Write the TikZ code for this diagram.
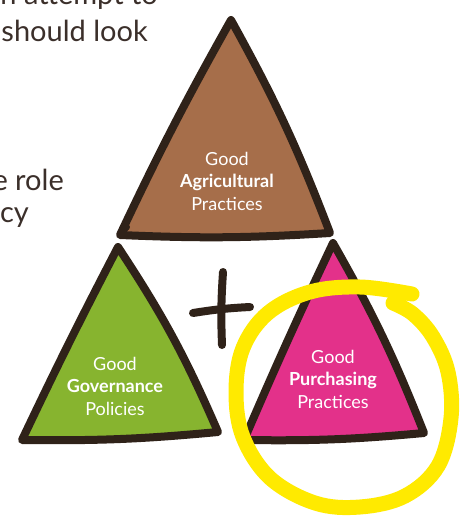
\documentclass[tikz,border=0pt]{standalone}
\usepackage{fontspec}
\setmainfont{Lato}
\definecolor{ink}{HTML}{2F2219}
\definecolor{txt}{HTML}{3B2F2A}
\definecolor{brownfill}{HTML}{A66E4A}
\definecolor{greenfill}{HTML}{87B42F}
\definecolor{pinkfill}{HTML}{E3318A}
\definecolor{hilite}{HTML}{FFEA00}
\tikzset{
  tri/.style={draw=ink, line width=8pt, line join=round, line cap=round},
  lbl/.style={text=white, align=center, font=\fontsize{18}{22.5}\selectfont},
  body/.style={text=txt, font=\fontsize{29}{32}\selectfont, inner sep=0pt},
  stroke/.style={draw=ink, line width=8pt, line cap=round}
}
\begin{document}
\begin{tikzpicture}[x=1pt,y=-1pt]
\useasboundingbox (0,0) rectangle (467,516);
\clip (0,0) rectangle (467,516);
% body text fragments
\node[body, anchor=base east] (t1) at (158,5) {n attempt to};
\node[body, anchor=base east] (t2) at (148,42) {should look};
\node[body, anchor=base east] (t3) at (64,190) {e role};
\node[body, anchor=base east] (t4) at (29,222) {cy};
% brown triangle
\coordinate (bA) at (231,20);
\coordinate (bR) at (330,233);
\coordinate (bL) at (120,235);
\path[tri, fill=brownfill] (bA) to[bend left=4] (bR) to[bend left=3] (bL) to[bend left=2] cycle;
\draw[stroke, line width=6pt] (bL) -- ++(7,-8);
\node[lbl] (agr) at (227,181) {Good\\\textbf{Agricultural}\\Practices};
% green triangle
\coordinate (gA) at (118,247);
\coordinate (gR) at (218,432);
\coordinate (gL) at (22,440);
\path[tri, fill=greenfill] (gA) to[bend left=5] (gR) to[bend left=3] (gL) to[bend left=1] cycle;
\node[lbl] (gov) at (115,386) {Good\\\textbf{Governance}\\Policies};
% plus
\coordinate (pv1) at (223,272);
\coordinate (pv2) at (222,345);
\coordinate (ph1) at (193,313);
\coordinate (ph2) at (250,307);
\draw[stroke] (pv1) to[bend right=3] (pv2);
\draw[stroke] (ph1) to[bend left=3] (ph2);
% pink triangle
\coordinate (pA) at (333,243);
\coordinate (pR) at (424,433);
\coordinate (pL) at (244,440);
\path[tri, fill=pinkfill] (pA) to[bend left=4] (pR) to[bend left=3] (pL) to[bend left=1] cycle;
\node[lbl] (pur) at (333,379) {Good\\\textbf{Purchasing}\\Practices};
% yellow highlight loop
\draw[hilite, line width=15pt, line cap=round, line join=round]
  plot[smooth, tension=0.6] coordinates {
   (412,294) (360,287) (310,292) (268,313) (243,348) (236,392) (243,437)
   (270,478) (315,503) (360,507) (405,496) (438,466) (451,418) (448,372)
   (433,337) (413,314) (393,303)};
\end{tikzpicture}
\end{document}
